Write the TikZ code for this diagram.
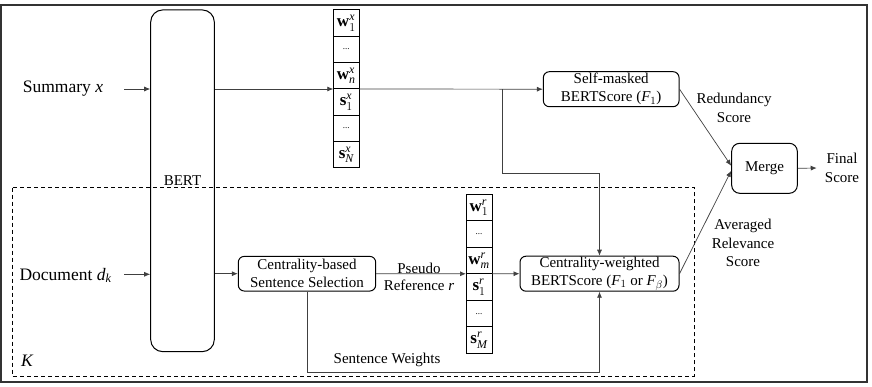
\documentclass[tikz,border=0pt]{standalone}
\usepackage{fontspec}
\setmainfont{Liberation Serif}
\newfontfamily\tms{Liberation Serif}
\usetikzlibrary{arrows.meta,calc}
\begin{document}
\begin{tikzpicture}[x=1pt,y=-1pt,
 box/.style={draw, line width=1pt, rounded corners=6pt, align=center, font=\tms\fontsize{15}{18}\selectfont, inner sep=0pt},
 conn/.style={draw=black!75, line width=0.7pt},
 arr/.style={conn, -{Latex[length=6pt,width=5pt]}},
 lbl/.style={align=center, font=\tms\fontsize{15}{18.5}\selectfont, inner sep=0pt},
 inlbl/.style={font=\tms\fontsize{17.5}{20}\selectfont, inner sep=0pt},
 cell/.style={draw, line width=1pt, minimum width=26pt, minimum height=26.4pt, inner sep=0pt, outer sep=0pt, font=\tms\fontsize{17}{18}\selectfont},
]
\useasboundingbox (0,0) rectangle (872,387);
\draw[line width=1.3pt, black!80] (1,5) rectangle (867,382);
\draw[dash pattern=on 4pt off 3pt, line width=1pt] (12.3,187.7) rectangle (694.3,376);
\node[draw, line width=1pt, rounded corners=12pt, minimum width=63.6pt, minimum height=341.7pt, inner sep=0pt, font=\tms\fontsize{15}{18}\selectfont] (bert) at (182.5,180.8) {BERT};

% summary vectors
\node[cell] (xc1) at (346.3,23.2) {$\mathbf{w}_1^{\mathit{x}}$};
\node[cell] (xc2) at (346.3,49.5) {\fontsize{9}{10}\selectfont ...};
\node[cell] (xc3) at (346.3,75.8) {$\mathbf{w}_{\mathit{n}}^{\mathit{x}}$};
\node[cell] (xc4) at (346.3,102.2) {$\mathbf{s}_1^{\mathit{x}}$};
\node[cell] (xc5) at (346.3,128.5) {\fontsize{9}{10}\selectfont ...};
\node[cell] (xc6) at (346.3,154.8) {$\mathbf{s}_{\mathit{N}}^{\mathit{x}}$};

% reference vectors
\node[cell] (rc1) at (479,207.6) {$\mathbf{w}_1^{\mathit{r}}$};
\node[cell] (rc2) at (479,234.1) {\fontsize{9}{10}\selectfont ...};
\node[cell] (rc3) at (479,260.6) {$\mathbf{w}_{\mathit{m}}^{\mathit{r}}$};
\node[cell] (rc4) at (479,287.1) {$\mathbf{s}_1^{\mathit{r}}$};
\node[cell] (rc5) at (479,313.6) {\fontsize{9}{10}\selectfont ...};
\node[cell] (rc6) at (479,340.1) {$\mathbf{s}_{\mathit{M}}^{\mathit{r}}$};

% boxes
\node[box, minimum width=135.7pt, minimum height=35pt] (self) at (611.2,89.2) {Self-masked\\BERTScore ($\mathit{F}_1$)};
\node[box, minimum width=159pt, minimum height=35pt] (cw) at (599.5,273.7) {Centrality-weighted\\BERTScore ($\mathit{F}_1$ or $\mathit{F}_\beta$)};
\node[box, minimum width=137.4pt, minimum height=34.7pt] (cb) at (307,273.7) {Centrality-based\\Sentence Selection};
\node[box, rounded corners=8pt, minimum width=65.6pt, minimum height=50pt] (merge) at (764.5,168.3) {Merge};

% labels
\node[inlbl] (sum) at (63,89) {Summary $\mathit{x}$};
\node[inlbl] (doc) at (65.5,275.5) {Document $\mathit{d}_{\mathit{k}}$};
\node[inlbl] (klbl) at (27,361) {$\mathit{K}$};
\node[lbl] (red) at (734,108) {Redundancy\\Score};
\node[lbl] (avg) at (743,243) {Averaged\\Relevance\\Score};
\node[lbl] (final) at (842,168) {Final\\Score};
\node[lbl] (sw) at (387,360) {Sentence Weights};
\node[lbl, anchor=base] (pseudo) at (419,273) {Pseudo};
\node[lbl, anchor=base] (refr) at (419,290) {Reference $\mathit{r}$};

% connectors
\coordinate (sumin) at (124,89);
\coordinate (docin) at (124,274.3);
\draw[arr] (sumin) -- (sumin -| bert.west);
\draw[arr] (docin) -- (docin -| bert.west);
\draw[arr] (bert.east |- xc3.south) -- (xc3.south west);
\draw[arr] (xc3.south east) -- (self.west);
\coordinate (br) at (502.3,89.2);
\coordinate (bend) at (502.3,173);
\draw[arr] (br) -- (bend) -| (cw.north);
\draw[arr] (bert.east |- cb.west) -- (cb.west);
\draw[arr] (cb.east) -- (rc3.south west);
\draw[arr] (rc3.south east) -- (cw.west);
\draw[arr] (cb.south) -- ++(0,80.3) -| (cw.south);
\draw[arr] (self.east) -- ([yshift=2.5pt]merge.west);
\draw[arr] (cw.east) -- ([yshift=-2.5pt]merge.west);
\draw[arr] (merge.east) -- ([xshift=-8pt]final.west);
\end{tikzpicture}
\end{document}
